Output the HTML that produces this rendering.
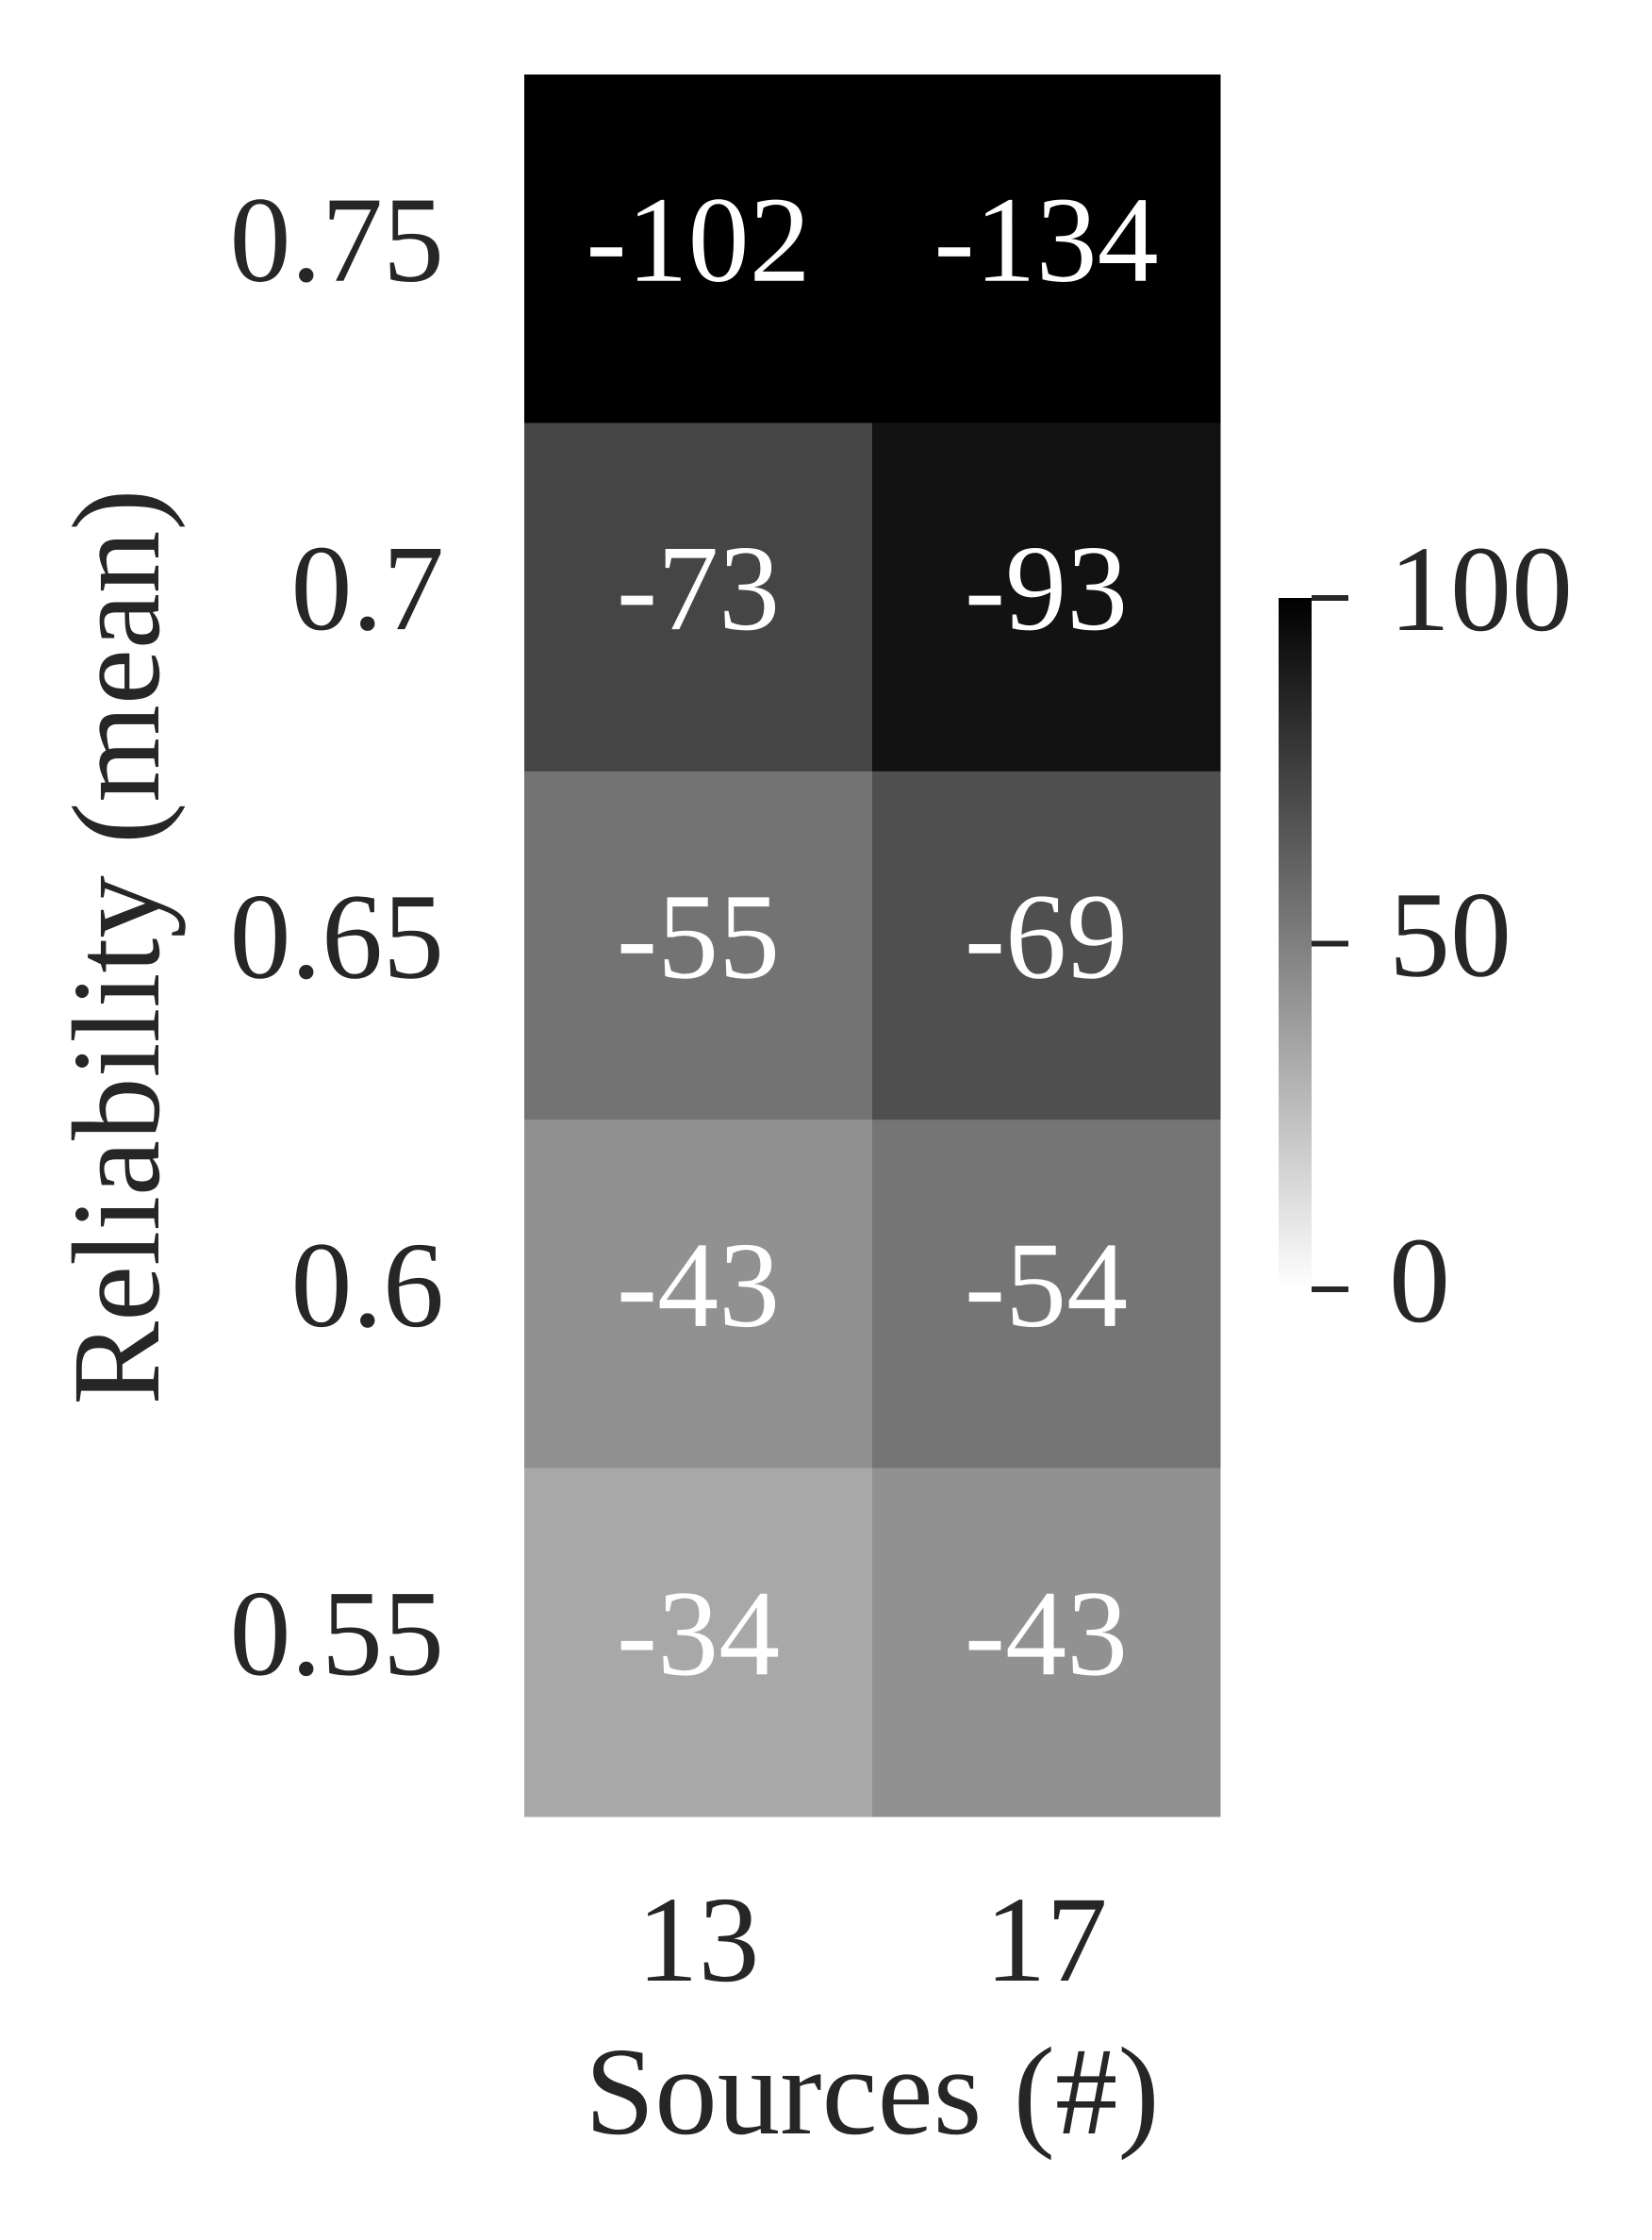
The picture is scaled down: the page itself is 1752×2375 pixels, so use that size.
<!DOCTYPE html>
<html><head><meta charset="utf-8">
<style>
html,body{margin:0;padding:0;background:#fff;}
svg text{font-family:"Liberation Serif",serif;}
</style></head>
<body>
<svg id="chart" width="1752" height="2370" viewBox="0 0 1752 2370" xmlns="http://www.w3.org/2000/svg">
<defs>
<linearGradient id="cbgrad" x1="0" y1="1" x2="0" y2="0">
<stop offset="0" stop-color="#ffffff"/><stop offset="1" stop-color="#000000"/>
</linearGradient>
</defs>
<g id="cells"></g>
<g id="yticks"></g>
<g id="xticks"></g>
<text x="925" y="2262" font-size="133" fill="#262626" text-anchor="middle">Sources (#)</text>
<text x="0" y="0" font-size="133" fill="#262626" text-anchor="middle" transform="translate(168,1004) rotate(-90)">Reliability (mean)</text>
<rect x="1356" y="634" width="35" height="733" fill="url(#cbgrad)"/>
<g id="cbticks"></g>
</svg>
<script>
const xCategories = ["13", "17"];
const yCategories = ["0.75", "0.7", "0.65", "0.6", "0.55"];
const valuesCol13 = [-102, -73, -55, -43, -34];
const valuesCol17 = [-134, -93, -69, -54, -43];
const cbTickValues = [0, 50, 100];
const cbTickLabels = ["0", "50", "100"];

const NS = "http://www.w3.org/2000/svg";
const gridLeft = 556, gridTop = 79, cellW = 369, cellH = 369.4;
const vmin = 0, vmax = 100;
const cbTop = 634, cbBottom = 1367;
const fs = 130, dy = 34;
function xPos(i){ return gridLeft + i*cellW; }
function yPos(j){ return gridTop + j*cellH; }
function gray(v){
  let t = Math.min(1, Math.max(0, (Math.abs(v)-vmin)/(vmax-vmin)));
  const g = Math.round(255*(1-t));
  return "rgb("+g+","+g+","+g+")";
}
function cbY(v){ return cbBottom - (v-vmin)/(vmax-vmin)*(cbBottom-cbTop); }
function mk(tag, attrs, parent){
  const e = document.createElementNS(NS, tag);
  for (const k in attrs) e.setAttribute(k, attrs[k]);
  parent.appendChild(e); return e;
}
const cellsG = document.getElementById("cells");
const seriesAll = [valuesCol13, valuesCol17];
seriesAll.forEach((col, i) => {
  col.forEach((v, j) => {
    const r = mk("rect", {x: xPos(i), y: yPos(j), width: cellW+0.5, height: cellH+0.5, fill: gray(v)}, cellsG);
    
    
    const t = mk("text", {x: xPos(i)+cellW/2, y: yPos(j)+cellH/2+dy, "font-size": fs, fill: "#ffffff", "text-anchor": "middle"}, cellsG);
    t.textContent = String(v);
    
    
  });
});
const ytG = document.getElementById("yticks");
yCategories.forEach((c, j) => {
  const t = mk("text", {x: 471, y: yPos(j)+cellH/2+dy, "font-size": fs, fill: "#262626", "text-anchor": "end"}, ytG);
  t.textContent = c;
  
  
});
const xtG = document.getElementById("xticks");
xCategories.forEach((c, i) => {
  const t = mk("text", {x: xPos(i)+cellW/2, y: 2100, "font-size": fs, fill: "#262626", "text-anchor": "middle"}, xtG);
  t.textContent = c;
  
  
});
const cbtG = document.getElementById("cbticks");
cbTickValues.forEach((v, k) => {
  const y = cbY(v);
  const l = mk("line", {x1: 1391, x2: 1430, y1: y, y2: y, stroke: "#262626", "stroke-width": 6}, cbtG);
  
  
  const t = mk("text", {x: 1473, y: y+dy, "font-size": fs, fill: "#262626"}, cbtG);
  t.textContent = cbTickLabels[k];
  
  
});
</script>
</body></html>
